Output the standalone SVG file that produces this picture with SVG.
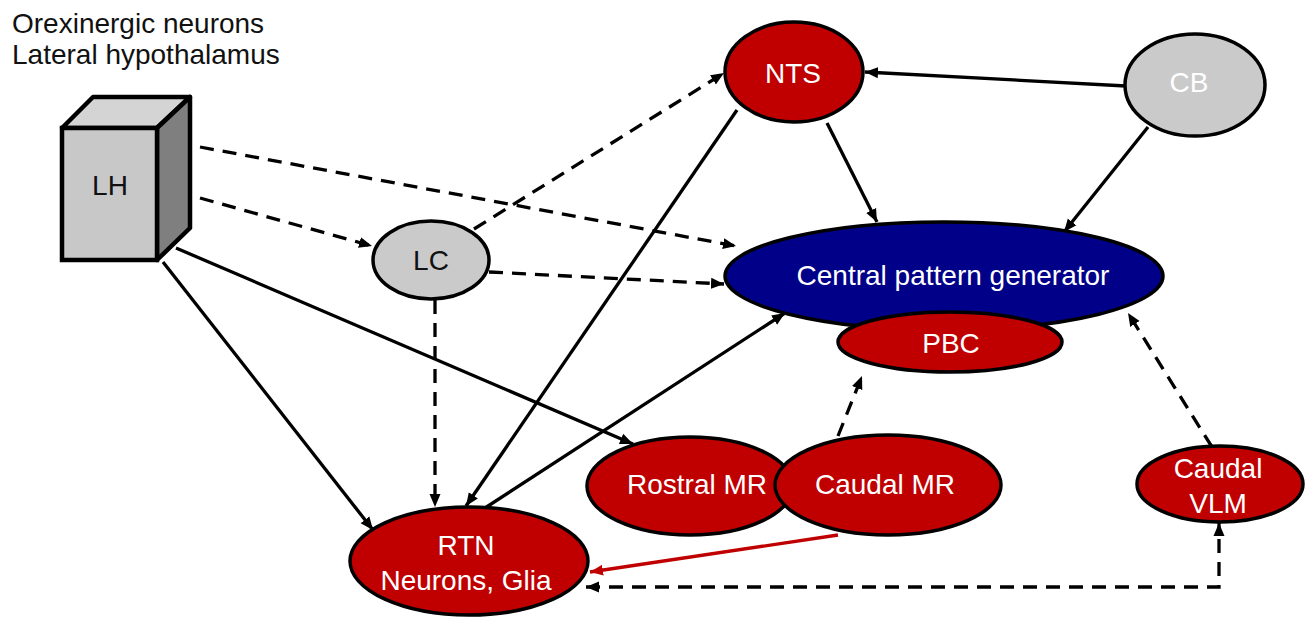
<svg xmlns="http://www.w3.org/2000/svg" width="1312" height="624" viewBox="0 0 1312 624">
<defs>
<marker id="ah" markerUnits="userSpaceOnUse" markerWidth="14" markerHeight="12" refX="13" refY="6" orient="auto-start-reverse"><path d="M0,0.5 L13,6 L0,11.5 z" fill="#000"/></marker>
<marker id="ahr" markerUnits="userSpaceOnUse" markerWidth="14" markerHeight="12" refX="13" refY="6" orient="auto"><path d="M0,0.5 L13,6 L0,11.5 z" fill="#c00000"/></marker>
<style>
text{font-family:"Liberation Sans",Arial,sans-serif;font-size:28px;text-anchor:middle}
.w{fill:#fff}
.k{fill:#111}
.red{fill:#c00000;stroke:#000;stroke-width:3.5}
.gray{fill:#cacaca;stroke:#000;stroke-width:3.5}
.blue{fill:#000088;stroke:#000;stroke-width:3.5}
.c{fill:none;stroke:#000;stroke-width:3.3;marker-end:url(#ah)}
.d{stroke-dasharray:14 9}
</style>
</defs>
<g id="title">
<text x="12" y="33" class="k" style="text-anchor:start">Orexinergic neurons</text>
<text x="12" y="64" class="k" style="text-anchor:start">Lateral hypothalamus</text>
</g>
<g id="connectors">
<path class="c d" d="M200,147 L736,246"/>
<path class="c d" d="M200,198 L372,246"/>
<path class="c d" d="M474,229 L724,73"/>
<path class="c d" d="M489,272 L724,284"/>
<path class="c d" d="M435,300 L435,507"/>
<path class="c" d="M163,262 L373,530"/>
<path class="c" d="M176,248 L633,444"/>
<path class="c" d="M737,110 L466,506"/>
<path class="c" d="M485,508 L785,313"/>
<path class="c" d="M827,123 L877,222"/>
<path class="c" d="M1126,86 L865,72"/>
<path class="c" d="M1148,127 L1064,232"/>
<path class="c d" d="M838,436 L862,376"/>
<path class="c d" d="M1212,447 L1128,313"/>
<path d="M838,535 L590,572" fill="none" stroke="#c00000" stroke-width="3.3" marker-end="url(#ahr)"/>
<path class="c d" d="M586,587 L1219,587 L1219,523" style="marker-start:url(#ah)"/>
</g>
<g id="LH">
<path d="M62,128 L93,97 L190,97 L157,128 Z" fill="#d4d4d4" stroke="#000" stroke-width="4.5" stroke-linejoin="round"/>
<path d="M157,128 L190,97 L190,228 L157,260 Z" fill="#7f7f7f" stroke="#000" stroke-width="4.5" stroke-linejoin="round"/>
<rect x="62" y="128" width="95" height="132" fill="#c8c8c8" stroke="#000" stroke-width="4.5"/>
<text x="110" y="195" class="k">LH</text>
</g>
<g id="NTS">
<ellipse cx="794" cy="72" rx="69" ry="50" class="red"/>
<text x="793" y="83" class="w">NTS</text>
</g>
<g id="CB">
<ellipse cx="1195" cy="85" rx="70" ry="51" class="gray"/>
<text x="1189" y="92" class="w">CB</text>
</g>
<g id="LC">
<ellipse cx="431" cy="260" rx="58" ry="39" class="gray"/>
<text x="431" y="270" class="k">LC</text>
</g>
<g id="CPG">
<ellipse cx="944" cy="276" rx="219" ry="54" class="blue"/>
<text x="953" y="285" class="w">Central pattern generator</text>
</g>
<g id="PBC">
<ellipse cx="950" cy="342" rx="112" ry="30" class="red"/>
<text x="951" y="353" class="w">PBC</text>
</g>
<g id="RostralMR">
<ellipse cx="690" cy="486" rx="103" ry="49" class="red"/>
<text x="697" y="494" class="w">Rostral MR</text>
</g>
<g id="CaudalMR">
<ellipse cx="888" cy="485" rx="113" ry="50" class="red"/>
<text x="885" y="494" class="w">Caudal MR</text>
</g>
<g id="CaudalVLM">
<ellipse cx="1220" cy="484" rx="83" ry="38" class="red"/>
<text x="1218" y="478" class="w">Caudal</text>
<text x="1218" y="513" class="w">VLM</text>
</g>
<g id="RTN">
<ellipse cx="469" cy="561" rx="119" ry="54" class="red"/>
<text x="466" y="555" class="w">RTN</text>
<text x="466" y="590" class="w">Neurons, Glia</text>
</g>
</svg>
